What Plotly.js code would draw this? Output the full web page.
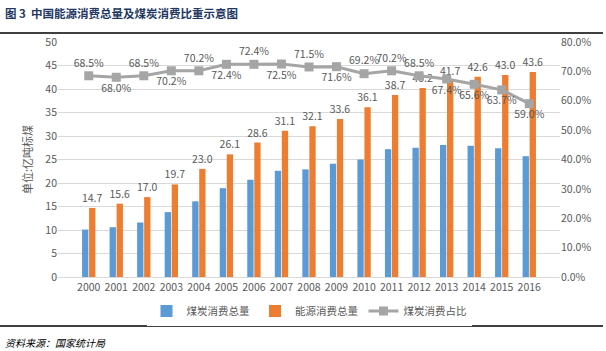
<!DOCTYPE html>
<html><head><meta charset="utf-8">
<script src="https://cdn.plot.ly/plotly-3.0.1.min.js"></script>
<style>html,body{margin:0;padding:0;background:#fff;}#c{width:606px;height:351px;}</style>
</head><body><div id="c"></div>
<script>
var years = ['2000','2001','2002','2003','2004','2005','2006','2007','2008','2009','2010','2011','2012','2013','2014','2015','2016'];
var coalTotal = [10.1,10.6,11.6,13.8,16.1,18.9,20.7,22.6,22.9,24.1,25.0,27.2,27.5,28.1,27.9,27.4,25.7];
var energyTotal = [14.7,15.6,17.0,19.7,23.0,26.1,28.6,31.1,32.1,33.6,36.1,38.7,40.2,41.7,42.6,43.0,43.6];
var coalShare = [68.5,68.0,68.5,70.2,70.2,72.4,72.4,72.5,71.5,71.6,69.2,70.2,68.5,67.4,65.6,63.7,59.0];
var sharePos = ['top center','bottom center','top center','bottom center','top center','bottom center','top center','bottom center','top center','bottom center','top center','top center','top center','bottom center','bottom center','bottom center','bottom center'];

var F = '"Noto Sans CJK SC", "Liberation Sans", sans-serif';
var grey = '#595959';

var traces = [
  {type:'bar', name:'煤炭消费总量', x:years, y:coalTotal, marker:{color:'#5B9BD5'}, hoverinfo:'y'},
  {type:'bar', name:'能源消费总量', x:years, y:energyTotal, marker:{color:'#ED7D31'},
   text:energyTotal.map(function(v){return v.toFixed(1);}), textposition:'outside', constraintext:'none',
   textfont:{family:F,size:10.5,color:grey}, cliponaxis:false},
  {type:'scatter', mode:'lines+markers+text', name:'煤炭消费占比', x:years,
   y:coalShare.map(function(v){return v/100;}), yaxis:'y2',
   line:{color:'#A5A5A5',width:3}, marker:{symbol:'square',size:9,color:'#A5A5A5'},
   text:coalShare.map(function(v){return v.toFixed(1)+'%';}), textposition:sharePos,
   textfont:{family:F,size:10.5,color:grey}, cliponaxis:false}
];

function px(x){return (x-58)/502;}
function py(y){return (277-y)/235;}

var layout = {
  width:606, height:351,
  margin:{l:58,r:46,t:42,b:74},
  paper_bgcolor:'#fff', plot_bgcolor:'#fff',
  font:{family:F,size:10,color:grey},
  barmode:'group', bargap:0.49, bargroupgap:0.1,
  showlegend:true,
  legend:{orientation:'h', x:0.5, xanchor:'center', y:py(311), yanchor:'middle',
          font:{family:F,size:10.5,color:grey}, traceorder:'normal', itemwidth:30},
  xaxis:{type:'category', showgrid:false, zeroline:false, showline:true, linecolor:'#D9D9D9',
         ticks:'', tickfont:{family:F,size:10.5,color:grey}},
  yaxis:{range:[0,50], dtick:5, showgrid:true, gridcolor:'#D9D9D9', gridwidth:1, zeroline:false,
         ticks:'', tickfont:{family:F,size:10.5,color:grey}},
  yaxis2:{overlaying:'y', side:'right', range:[0,0.8], dtick:0.1, tickformat:'.1%', showgrid:false,
          zeroline:false, ticks:'', tickfont:{family:F,size:10.5,color:grey}},
  shapes:[
    {type:'line', xref:'paper', yref:'paper', x0:px(0), x1:px(603), y0:py(33), y1:py(33), line:{color:'#000',width:1.5}},
    {type:'line', xref:'paper', yref:'paper', x0:px(0), x1:px(603), y0:py(326), y1:py(326), line:{color:'#000',width:1.5}}
  ],
  annotations:[
    {xref:'paper', yref:'paper', x:px(3), y:py(13), xanchor:'left', yanchor:'middle', showarrow:false,
     text:'<b>图 3  中国能源消费总量及煤炭消费比重示意图</b>', font:{family:F,size:11.5,color:'#1F3864'}},
    {xref:'paper', yref:'paper', x:px(27), y:py(160), xanchor:'center', yanchor:'middle', showarrow:false,
     textangle:-90, text:'单位:亿吨标煤', font:{family:F,size:11,color:grey}},
    {xref:'paper', yref:'paper', x:px(3), y:py(342), xanchor:'left', yanchor:'middle', showarrow:false,
     text:'<i>资料来源：国家统计局</i>', font:{family:F,size:10,color:'#000'}}
  ]
};

Plotly.newPlot('c', traces, layout, {displayModeBar:false, staticPlot:true});
</script>
</body></html>
